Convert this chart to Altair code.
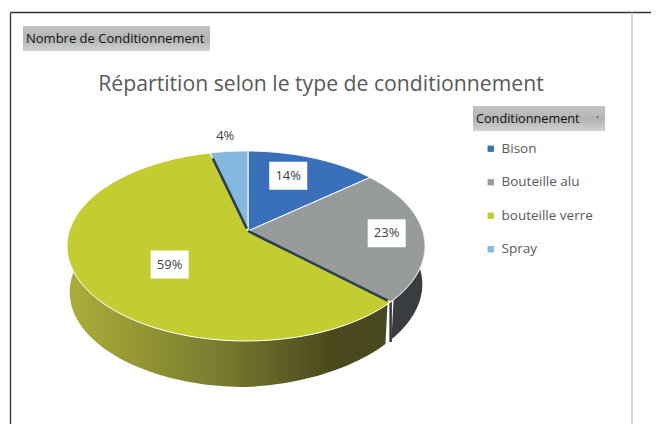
import math
import altair as alt

# ---- data
categories = ["Bison", "Bouteille alu", "bouteille verre", "Spray"]
shares = [14, 23, 59, 4]
colors = ["#3a70b9", "#979b9b", "#c3cc30", "#85b8df"]
title_text = "Répartition selon le type de conditionnement"
filter_text = "Nombre de Conditionnement"
legend_text = "Conditionnement"

# ---- layout of the tilted pie (chart pixels)
OX, OY = 8, 8
CX, CY, RX, RY = 246 - OX, 246 - OY, 179, 95
AX, AY = 248 - OX, 231 - OY
K = 0.53
DEPTH = 46


def rim(theta):
    """Point where a slice edge at angle theta meets the top ellipse."""
    t = math.radians(theta)
    dx, dy = math.sin(t), -K * math.cos(t)
    ex, ey = AX - CX, AY - CY
    a = dx**2 / RX**2 + dy**2 / RY**2
    b = 2 * (ex * dx / RX**2 + ey * dy / RY**2)
    c = ex**2 / RX**2 + ey**2 / RY**2 - 1
    s = (-b + math.sqrt(b * b - 4 * a * c)) / (2 * a)
    return [AX + s * dx, AY + s * dy]


def inner(theta, f):
    x, y = rim(theta)
    return [AX + f * (x - AX), AY + f * (y - AY)]


def arc(a, b, n=90):
    return [rim(a + (b - a) * i / n) for i in range(n + 1)]


def feature(coords, **props):
    return {"type": "Feature", "properties": props,
            "geometry": {"type": "Polygon", "coordinates": [coords + [coords[0]]]}}


def line(coords):
    return {"type": "Feature", "properties": {},
            "geometry": {"type": "LineString", "coordinates": coords}}


def drop(x):
    return DEPTH - 6 * max(0, x - CX) / 140


def wall(a, b):
    top = arc(a, b)
    bottom = [[x * 0.985 + CX * 0.015, y + drop(x)] for x, y in reversed(top)]
    return feature(top + bottom)


def theta_at(v):
    return 360 * v / sum(shares)


cum = [sum(shares[:i]) for i in range(len(shares) + 1)]
edges = [theta_at(v) for v in cum]
slices = [
    feature([[AX, AY]] + arc(edges[i], edges[i + 1]), name=categories[i], order=i)
    for i in range(len(categories))
]

proj = alt.Projection(type="identity", scale=1, translate=[0, 0])
canvas = dict(width=643, height=416)


def geo(features, **mark):
    return alt.Chart(alt.Data(values=features)).mark_geoshape(**mark).project(**proj.to_dict())


grad_side = alt.Gradient(
    gradient="linear", x1=0, x2=1, y1=0, y2=0,
    stops=[alt.GradientStop(offset=0, color="#abaf38"),
           alt.GradientStop(offset=0.45, color="#7d7e31"),
           alt.GradientStop(offset=0.82, color="#4a4a1e"),
           alt.GradientStop(offset=1, color="#47481c")])
grad_box = alt.Gradient(
    gradient="linear", x1=0, x2=0, y1=0, y2=1,
    stops=[alt.GradientStop(offset=0, color="#c2c4c4"),
           alt.GradientStop(offset=0.55, color="#b2b4b4"),
           alt.GradientStop(offset=1, color="#d2d3d3")])

side_yellow = geo([wall(edges[2] + 1.5, 277)], fill=grad_side, stroke=None)
side_grey = geo([wall(86, edges[2] - 1.5)], fill="#393d40", stroke=None)

top = geo(slices, stroke="white", strokeWidth=1).encode(
    color=alt.Color(
        "properties.name:N",
        scale=alt.Scale(domain=categories, range=colors),
        legend=alt.Legend(
            title=None, orient="none", legendX=476, legendY=134,
            symbolType="square", symbolSize=40, symbolStrokeWidth=0,
            labelFont="Open Sans", labelFontSize=13.5, labelColor="#595959",
            rowPadding=18.5, labelOffset=4, padding=0,
        ),
    ),
    order=alt.Order("properties.order:Q"),
)

dark_edges = geo(
    [line([inner(edges[3], 0.03), inner(edges[3], 0.93)]),
     line([inner(edges[2], 0.0), inner(edges[2], 0.98)])],
    filled=False, stroke="#2f3e4c", strokeWidth=2.5,
)
split = geo(
    [line([rim(edges[2]), [rim(edges[2])[0], rim(edges[2])[1] + DEPTH - 6]])],
    filled=False, stroke="#33383c", strokeWidth=2.5,
)


# ---- percentage labels at radial fractions along each slice's middle
fractions = [0.62, 0.79, 0.47, 1.2]
shifts = [-10, 0, 9, 0]
labels = []
boxes = []
for i, share in enumerate(shares):
    mid = (edges[i] + edges[i + 1]) / 2
    x, y = inner(mid, fractions[i])
    y += shifts[i]
    labels.append({"lon": x, "lat": y, "label": f"{share}%"})
    if i < 3:
        w, h = 19, 14
        boxes.append(feature([[x - w, y - h], [x + w, y - h], [x + w, y + h], [x - w, y + h]]))

label_boxes = geo(boxes, fill="white", stroke=None)
label_text = (
    alt.Chart(alt.Data(values=labels))
    .mark_text(font="Open Sans", fontSize=13, color="#404040")
    .encode(longitude="lon:Q", latitude="lat:Q", text="label:N")
    .project(**proj.to_dict())
)


# ---- page furniture
def rule(x, y, x2, y2, color, w):
    return alt.Chart().mark_rule(color=color, strokeWidth=w).encode(
        x=alt.value(x), y=alt.value(y), x2=alt.value(x2), y2=alt.value(y2))


def box(x, y, x2, y2):
    return alt.Chart().mark_rect(fill=grad_box).encode(
        x=alt.value(x), y=alt.value(y), x2=alt.value(x2), y2=alt.value(y2))


def text(s, x, y, size, color, align="left", font="Open Sans", weight="normal"):
    return alt.Chart().mark_text(
        text=s, font=font, fontSize=size, color=color, align=align, baseline="middle", fontWeight=weight
    ).encode(x=alt.value(x), y=alt.value(y))


chart = alt.layer(
    rule(2.5, 4.5, 643, 4.5, "#333333", 1.3),
    rule(2.5, 4.5, 2.5, 416, "#333333", 1.3),
    rule(624, 4.5, 624, 416, "#c9c9c9", 1.5),
    box(15, 18, 202, 43),
    text(filter_text, 18, 31, 13, "#111111"),
    text(title_text, 313, 77, 21.2, "#595959", align="center"),
    box(465, 98, 597, 123),
    text(legend_text, 468, 111, 12.7, "#111111"),
    text("·", 588, 110, 12, "#333333"),
    side_yellow,
    side_grey,
    split,
    top,
    dark_edges,
    label_boxes,
    label_text,
).resolve_scale(color="independent").properties(
    padding=0, autosize=alt.AutoSizeParams(type="none"), background="white", **canvas
).configure_view(stroke=None)

chart.save("out.html", embed_options={"renderer": "svg", "actions": False})
